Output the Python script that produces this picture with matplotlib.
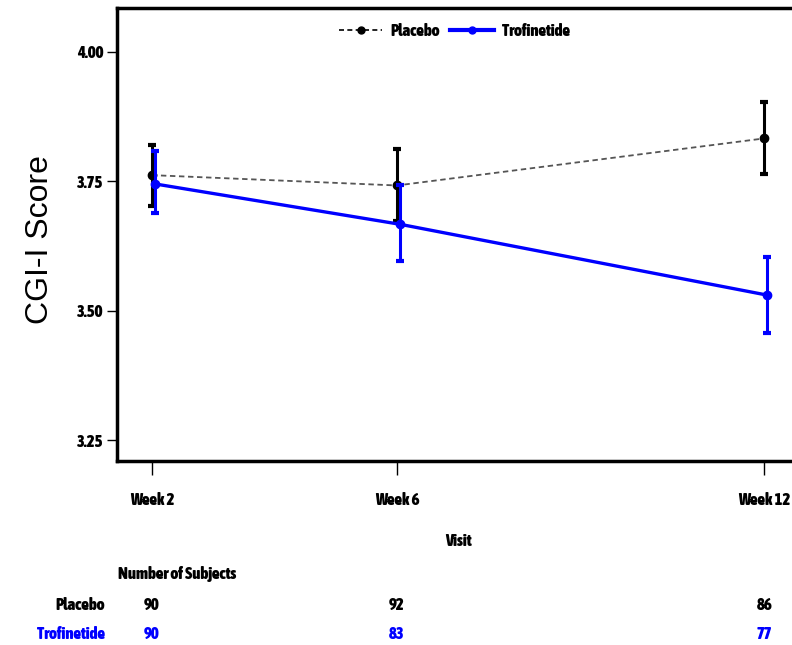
import matplotlib
matplotlib.use("Agg")
import matplotlib.pyplot as plt
from matplotlib import font_manager as fm
from matplotlib.lines import Line2D
from matplotlib.font_manager import FontProperties
import matplotlib.patheffects as pe

weeks = [2, 6, 12]
week_labels = ["Week 2", "Week 6", "Week 12"]
placebo_mean = [3.762, 3.742, 3.833]
placebo_lo = [3.702, 3.673, 3.764]
placebo_hi = [3.821, 3.812, 3.903]
trof_mean = [3.745, 3.667, 3.530]
trof_lo = [3.688, 3.597, 3.457]
trof_hi = [3.808, 3.742, 3.603]
n_placebo = [90, 92, 86]
n_trof = [90, 83, 77]

# pick a narrow / condensed font, bold if possible
cands = [f for f in fm.fontManager.ttflist if ("Narrow" in f.name or "Condensed" in f.name)]
def wnum(w):
    if isinstance(w, (int, float)):
        return w
    return {"bold": 700, "heavy": 800, "black": 900, "semibold": 600, "demibold": 600}.get(str(w).lower(), 400)
bold = [f for f in cands if wnum(f.weight) >= 700 and "Italic" not in f.fname and "Oblique" not in f.fname]
fake_bold = False
if bold:
    fpath = bold[0].fname
elif cands:
    reg = [f for f in cands if "Italic" not in f.fname] or cands
    fpath = reg[0].fname
    fake_bold = True
else:
    fpath = None

def fp(size):
    if fpath:
        return FontProperties(fname=fpath, size=size)
    return FontProperties(family="DejaVu Sans", weight="bold", size=size)

def eff(color):
    if fake_bold:
        return [pe.withStroke(linewidth=0.7, foreground=color)]
    return []

fig = plt.figure(figsize=(7.92, 6.45), dpi=100)
ax = fig.add_axes([117/792, 1-461/645, 1-117/792, (461-8)/645])

blue = "#0000ff"
off = 0.05
perr = [[m - l for m, l in zip(placebo_mean, placebo_lo)], [h - m for m, h in zip(placebo_mean, placebo_hi)]]
terr = [[m - l for m, l in zip(trof_mean, trof_lo)], [h - m for m, h in zip(trof_mean, trof_hi)]]

ax.plot(weeks, placebo_mean, linestyle=(0, (3, 2)), color="#555555", lw=1.3, zorder=2)
ax.errorbar(weeks, placebo_mean, yerr=perr, fmt="o", color="black", ms=6, elinewidth=2.2,
            capsize=3, capthick=3, zorder=3)
tw = [w + off for w in weeks]
ax.plot(tw, trof_mean, color=blue, lw=2.4, zorder=4)
ax.errorbar(tw, trof_mean, yerr=terr, fmt="o", color=blue, ms=6, elinewidth=2.2,
            capsize=3, capthick=3, zorder=5)

FS = 12

ax.set_xlim(1.43, 12.45)
ax.set_ylim(3.2095, 4.085)
ax.set_yticks([3.25, 3.5, 3.75, 4.0])
ax.set_yticklabels(["3.25", "3.50", "3.75", "4.00"])
ax.set_xticks(weeks)
ax.set_xticklabels(week_labels)
for t in ax.get_xticklabels() + ax.get_yticklabels():
    t.set_fontproperties(fp(FS))
    t.set_path_effects(eff("black"))
ax.tick_params(axis="x", length=10, width=1, pad=12)
ax.tick_params(axis="y", length=7, width=1, pad=3)
for s in ["left", "top", "bottom"]:
    ax.spines[s].set_linewidth(2.5)
ax.spines["right"].set_visible(False)

h1 = Line2D([], [], color="black", linestyle=(0, (3, 2)), lw=1.2, marker="o", ms=5)
h2 = Line2D([], [], color=blue, lw=3, marker="o", ms=5)
leg = ax.legend([h1, h2], ["Placebo", "Trofinetide"], loc="upper center", bbox_to_anchor=(0.5, 1.0),
                ncol=2, frameon=False, handlelength=2.6, columnspacing=0.6, handletextpad=0.5,
                prop=fp(FS))
for t in leg.get_texts():
    t.set_path_effects(eff("black"))

fig.text(40/792, 1-240/645, "CGI-I Score", rotation=90, ha="center", va="center",
         fontsize=23, fontfamily="Liberation Sans")

def ftext(x, y, s, ha, color="black"):
    fig.text(x, y, s, ha=ha, va="center", color=color, fontproperties=fp(FS), path_effects=eff(color))

ftext(458/792, 1-541/645, "Visit", "center")
ftext(118/792, 1-574/645, "Number of Subjects", "left")
ftext(105/792, 1-605/645, "Placebo", "right")
ftext(105/792, 1-634/645, "Trofinetide", "right", blue)
for w, a, b in zip(weeks, n_placebo, n_trof):
    xf = fig.transFigure.inverted().transform(ax.transData.transform((w, 3.5)))[0]
    ftext(xf, 1-605/645, str(a), "center")
    ftext(xf, 1-634/645, str(b), "center", blue)

fig.savefig("out.png", dpi=100)
